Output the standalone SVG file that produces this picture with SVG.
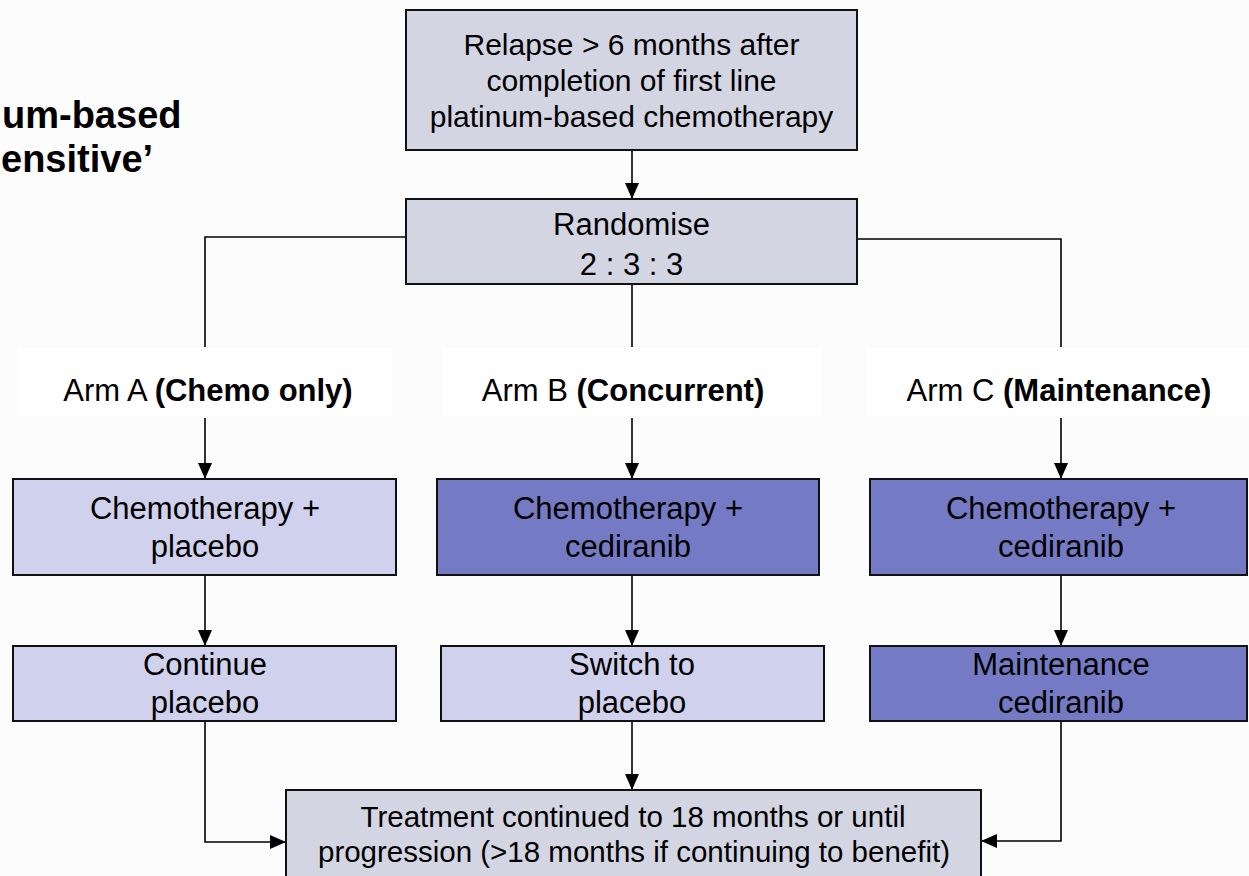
<svg xmlns="http://www.w3.org/2000/svg" width="1249" height="876" viewBox="0 0 1249 876">
<style>
  text { font-family: "Liberation Sans", Arial, sans-serif; fill: #000; }
  .box { stroke: #111; stroke-width: 2; }
  .grey { fill: #d4d5e3; }
  .light { fill: #d0d1ec; }
  .dark { fill: #747ac3; }
  .t { font-size: 31px; text-anchor: middle; }
  .tt { font-size: 30px; text-anchor: middle; }
  .lbl { fill: #ffffff; }
  .conn { fill: none; stroke: #000; stroke-width: 1.6; }
  .title { font-size: 38px; font-weight: bold; text-anchor: start; }
  .b { font-weight: bold; }
</style>
<defs>
  <marker id="arrow" viewBox="0 0 16 14" refX="16" refY="7" markerWidth="16" markerHeight="14" markerUnits="userSpaceOnUse" orient="auto">
    <path d="M0,0 L16,7 L0,14 z" fill="#000"/>
  </marker>
</defs>
<rect x="0" y="0" width="1249" height="876" fill="#fcfcfc"/>

<g id="title">
  <text class="title" x="2" y="128">um-based</text>
  <text class="title" x="1" y="172">ensitive’</text>
</g>

<g id="labels-bg">
  <rect class="lbl" x="18" y="348" width="374" height="68"/>
  <rect class="lbl" x="443" y="348" width="378" height="68"/>
  <rect class="lbl" x="867" y="348" width="382" height="68"/>
</g>

<g id="connectors">
  <line class="conn" x1="632" y1="150" x2="632" y2="199" marker-end="url(#arrow)"/>
  <polyline class="conn" points="406,237 205,237 205,347"/>
  <line class="conn" x1="632" y1="284" x2="632" y2="347"/>
  <polyline class="conn" points="857,239 1061,239 1061,347"/>
  <line class="conn" x1="205" y1="418" x2="205" y2="479" marker-end="url(#arrow)"/>
  <line class="conn" x1="632" y1="418" x2="632" y2="479" marker-end="url(#arrow)"/>
  <line class="conn" x1="1061" y1="418" x2="1061" y2="479" marker-end="url(#arrow)"/>
  <line class="conn" x1="205" y1="575" x2="205" y2="646" marker-end="url(#arrow)"/>
  <line class="conn" x1="632" y1="575" x2="632" y2="646" marker-end="url(#arrow)"/>
  <line class="conn" x1="1061" y1="575" x2="1061" y2="646" marker-end="url(#arrow)"/>
  <polyline class="conn" points="205,721 205,842 286,842" marker-end="url(#arrow)"/>
  <line class="conn" x1="632" y1="721" x2="632" y2="790" marker-end="url(#arrow)"/>
  <polyline class="conn" points="1061,721 1061,841 981,841" marker-end="url(#arrow)"/>
</g>

<g id="relapse">
  <rect class="box grey" x="406" y="10" width="451" height="140"/>
  <text class="tt" x="631.5" y="55">Relapse &gt; 6 months after</text>
  <text class="tt" x="631.5" y="91">completion of first line</text>
  <text class="tt" x="631.5" y="127">platinum-based chemotherapy</text>
</g>

<g id="randomise">
  <rect class="box grey" x="406" y="199" width="451" height="85"/>
  <text class="t" x="631.5" y="235">Randomise</text>
  <text class="t" x="631.5" y="275">2 : 3 : 3</text>
</g>

<g id="armA">
  <text class="t" x="208" y="401">Arm A <tspan class="b">(Chemo only)</tspan></text>
</g>
<g id="armB">
  <text class="t" x="623" y="401">Arm B <tspan class="b">(Concurrent)</tspan></text>
</g>
<g id="armC">
  <text class="t" x="1059" y="401">Arm C <tspan class="b">(Maintenance)</tspan></text>
</g>

<g id="a1">
  <rect class="box light" x="13" y="479" width="383" height="96"/>
  <text class="t" x="205" y="519">Chemotherapy +</text>
  <text class="t" x="205" y="557">placebo</text>
</g>
<g id="b1">
  <rect class="box dark" x="437" y="479" width="382" height="96"/>
  <text class="t" x="628" y="519">Chemotherapy +</text>
  <text class="t" x="628" y="557">cediranib</text>
</g>
<g id="c1">
  <rect class="box dark" x="870" y="479" width="377" height="96"/>
  <text class="t" x="1061" y="519">Chemotherapy +</text>
  <text class="t" x="1061" y="557">cediranib</text>
</g>

<g id="a2">
  <rect class="box light" x="13" y="646" width="383" height="75"/>
  <text class="t" x="205" y="675">Continue</text>
  <text class="t" x="205" y="713">placebo</text>
</g>
<g id="b2">
  <rect class="box light" x="441" y="646" width="383" height="75"/>
  <text class="t" x="632" y="675">Switch to</text>
  <text class="t" x="632" y="713">placebo</text>
</g>
<g id="c2">
  <rect class="box dark" x="870" y="646" width="377" height="75"/>
  <text class="t" x="1061" y="675">Maintenance</text>
  <text class="t" x="1061" y="713">cediranib</text>
</g>

<g id="outcome">
  <rect class="box grey" x="286" y="790" width="695" height="100"/>
  <text class="tt" x="633" y="827" textLength="545" lengthAdjust="spacingAndGlyphs">Treatment continued to 18 months or until</text>
  <text class="tt" x="634" y="862" textLength="632" lengthAdjust="spacingAndGlyphs">progression (&gt;18 months if continuing to benefit)</text>
</g>
</svg>
